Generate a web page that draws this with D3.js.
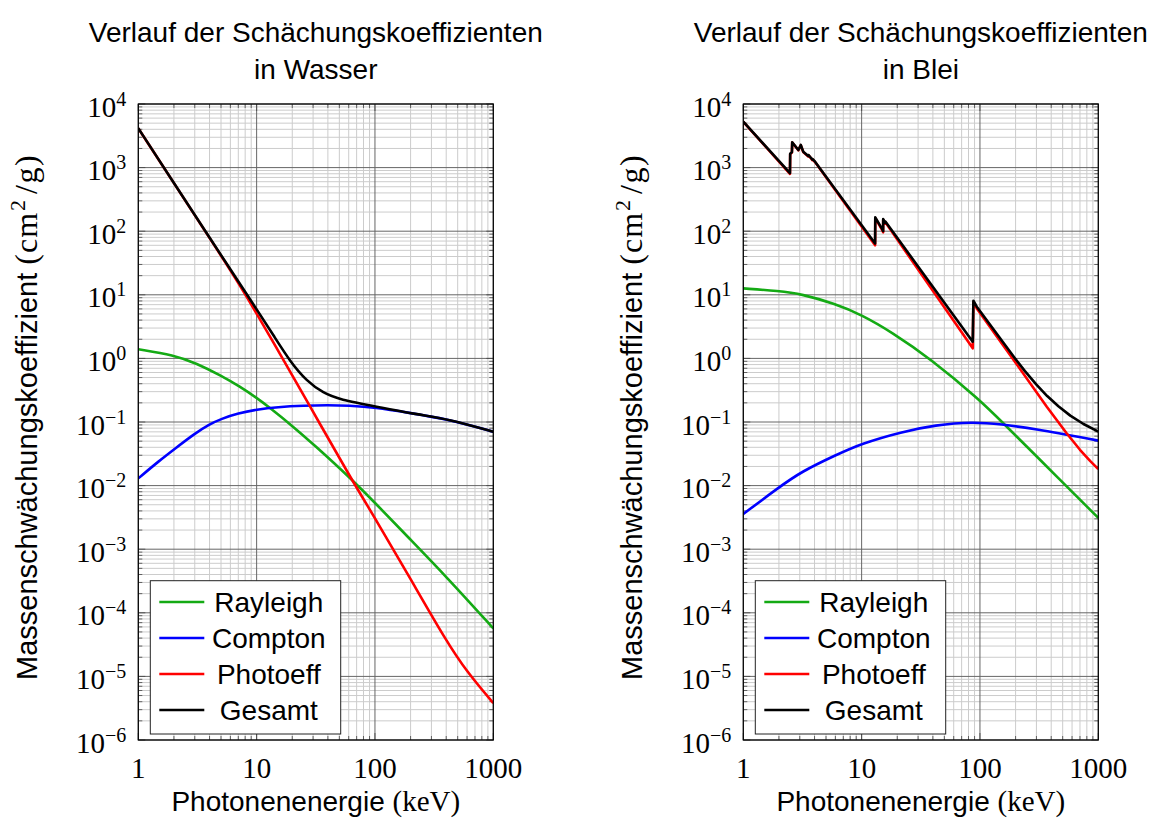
<!DOCTYPE html>
<html><head><meta charset="utf-8">
<script src="https://cdn.jsdelivr.net/npm/d3@7"></script>
<style>body{margin:0;background:#fff}</style>
</head><body><svg id="c" width="1161" height="819" xmlns="http://www.w3.org/2000/svg"></svg>
<script>
// ---------- data ----------
const xTickValues = [1, 10, 100, 1000];
const xTickLabels = ["1", "10", "100", "1000"];
const yTickExponents = [4, 3, 2, 1, 0, -1, -2, -3, -4, -5, -6];
const seriesNames = ["Rayleigh", "Compton", "Photoeff", "Gesamt"];
const seriesColors = ["#14aa14", "#0000ff", "#ff0000", "#000000"];
const titles = [["Verlauf der Schächungskoeffizienten", "in Wasser"],
                ["Verlauf der Schächungskoeffizienten", "in Blei"]];

// Water: [energy keV, cm^2/g]
const waterRayleigh = [[1,1.39],[2,1.13],[3.1,0.836],[5,0.537],[7.24,0.359],[10,0.24],[13,0.166],[20,0.087],[30,0.0452],[63.5,0.0126],[100,0.00537],[200,0.00141],[400,0.000372],[1000,0.000057]];
const waterCompton = [[1,0.013],[1.5,0.0245],[2,0.037],[3,0.066],[4,0.092],[5,0.112],[7,0.137],[10,0.157],[15,0.172],[25,0.181],[40,0.184],[60,0.181],[100,0.17],[200,0.138],[400,0.112],[1000,0.0705]];
const waterPhoto = [[1,4140],[2,570],[4,78.5],[7.24,14.3],[13.8,1.81],[27.7,0.188],[63.7,0.01225],[100,0.0031],[200,0.00034],[400,0.000036],[600,0.0000117],[1000,0.0000038]];
const waterTotal = [[1,4150],[2,572],[4,79],[7.24,14.8],[10,5.9],[13.8,2.35],[19.2,0.89],[26.5,0.44],[36.6,0.285],[50.7,0.224],[100,0.176],[240,0.129],[400,0.113],[1000,0.0705]];

// Lead
const leadRayleigh = [[1,12.6],[2,11.5],[3.1,10.3],[6,7.2],[10,4.85],[17.9,2.6],[37.9,1.0],[100,0.222],[158,0.095],[300,0.029],[1000,0.0031]];
const leadCompton = [[1,0.00358],[2,0.0094],[3.1,0.0166],[6,0.030],[10,0.046],[21.8,0.070],[41.7,0.0897],[87,0.101],[152,0.092],[280,0.079],[1000,0.051]];
const leadPhoto = [[1,5250],[2.48,800],[2.49,1630],[2.575,1730],[2.59,2480],[2.92,1870],[3.06,2250],[3.21,1760],[3.54,1500],[3.56,1560],[3.84,1310],[3.86,1340],[4.04,1220],[13.0,60],[13.04,160],[14.8,107],[15.2,96],[15.21,150],[15.85,131],[15.87,138],[86.9,1.44],[88.0,7.6],[94,6.1],[198,0.88],[367,0.174],[542,0.066],[700,0.0366],[852,0.0245],[1000,0.0182]];
const leadTotal = [[1,5270],[2.48,820],[2.49,1650],[2.575,1750],[2.59,2500],[2.92,1890],[3.06,2270],[3.21,1780],[3.54,1520],[3.56,1580],[3.84,1330],[3.86,1360],[4.04,1240],[13.0,64],[13.04,165],[14.8,111],[15.2,100],[15.21,155],[15.85,135],[15.87,142],[86.9,1.83],[88.0,8.07],[94,6.5],[198,1.0],[240,0.63],[300,0.386],[370,0.256],[460,0.177],[580,0.126],[750,0.093],[1000,0.0705]];

const panels = [
  {x0: 138.3, series: [waterRayleigh, waterCompton, waterPhoto, waterTotal], edges: [false, false, false, false]},
  {x0: 743.3, series: [leadRayleigh, leadCompton, leadPhoto, leadTotal], edges: [false, false, true, true]}
];

// ---------- drawing ----------
const svg = d3.select("#c");
const W = 355, Y0 = 104, Y1 = 740;
const SANS = "'Liberation Sans', Arial, Helvetica, sans-serif";
const SERIF = "'Liberation Serif', 'Times New Roman', serif";

panels.forEach((p, pi) => {
  const x = d3.scaleLog().domain([1, 1000]).range([p.x0, p.x0 + W]);
  const y = d3.scaleLog().domain([1e-6, 1e4]).range([Y1, Y0]);
  const g = svg.append("g");

  const minorX = [], minorY = [];
  for (let k = 0; k < 3; k++) for (let m = 2; m <= 9; m++) minorX.push(m * Math.pow(10, k));
  for (let k = -6; k < 4; k++) for (let m = 2; m <= 9; m++) minorY.push(m * Math.pow(10, k));
  const majorY = yTickExponents.map(e => Math.pow(10, e));

  const gridG = g.append("g");
  gridG.selectAll(".mx").data(minorX).enter().append("line")
    .attr("x1", d => x(d)).attr("x2", d => x(d)).attr("y1", Y0).attr("y2", Y1)
    .attr("stroke", "#cccccc").attr("stroke-width", 1);
  gridG.selectAll(".my").data(minorY).enter().append("line")
    .attr("y1", d => y(d)).attr("y2", d => y(d)).attr("x1", p.x0).attr("x2", p.x0 + W)
    .attr("stroke", "#cccccc").attr("stroke-width", 1);
  gridG.selectAll(".Mx").data(xTickValues).enter().append("line")
    .attr("x1", d => x(d)).attr("x2", d => x(d)).attr("y1", Y0).attr("y2", Y1)
    .attr("stroke", "#666666").attr("stroke-width", 1);
  gridG.selectAll(".My").data(majorY).enter().append("line")
    .attr("y1", d => y(d)).attr("y2", d => y(d)).attr("x1", p.x0).attr("x2", p.x0 + W)
    .attr("stroke", "#666666").attr("stroke-width", 1);

  const tickG = g.append("g").attr("stroke", "#444").attr("stroke-width", 0.8);
  const addTicks = (vals, len, axisIsX) => {
    vals.forEach(v => {
      if (axisIsX) {
        const xx = x(v);
        tickG.append("line").attr("x1", xx).attr("x2", xx).attr("y1", Y1).attr("y2", Y1 - len);
        tickG.append("line").attr("x1", xx).attr("x2", xx).attr("y1", Y0).attr("y2", Y0 + len);
      } else {
        const yy = y(v);
        tickG.append("line").attr("y1", yy).attr("y2", yy).attr("x1", p.x0).attr("x2", p.x0 + len);
        tickG.append("line").attr("y1", yy).attr("y2", yy).attr("x1", p.x0 + W).attr("x2", p.x0 + W - len);
      }
    });
  };
  addTicks(minorX, 4, true); addTicks(xTickValues, 7, true);
  addTicks(minorY, 4, false); addTicks(majorY, 7, false);

  const clipId = "clip" + pi;
  svg.append("clipPath").attr("id", clipId).append("rect")
    .attr("x", p.x0).attr("y", Y0).attr("width", W).attr("height", Y1 - Y0);
  const smoothLine = d3.line().x(d => x(d[0])).y(d => y(d[1])).curve(d3.curveBasis);
  const edgeLine = d3.line().x(d => x(d[0])).y(d => y(d[1])).curve(d3.curveLinear);
  const curveG = g.append("g").attr("clip-path", `url(#${clipId})`);
  p.series.forEach((s, si) => {
    curveG.append("path").attr("d", (p.edges[si] ? edgeLine : smoothLine)(s)).attr("fill", "none")
      .attr("stroke", seriesColors[si]).attr("stroke-width", 2.6)
      .attr("stroke-linejoin", "round");
  });

  g.append("rect").attr("x", p.x0).attr("y", Y0).attr("width", W).attr("height", Y1 - Y0)
    .attr("fill", "none").attr("stroke", "#000").attr("stroke-width", 1.2);

  xTickValues.forEach((v, i) => {
    g.append("text").attr("x", x(v)).attr("y", 778).attr("text-anchor", "middle")
      .attr("font-family", SERIF).attr("font-size", 29).text(xTickLabels[i]);
  });
  yTickExponents.forEach(e => {
    const t = g.append("text").attr("x", p.x0 - 12).attr("y", y(Math.pow(10, e)) + 12.5)
      .attr("text-anchor", "end").attr("font-family", SERIF).attr("font-size", 29);
    t.append("tspan").text("10");
    t.append("tspan").attr("dy", -11).attr("font-size", 20).text(e < 0 ? "\u2212" + (-e) : String(e));
  });

  const xl = g.append("text").attr("x", p.x0 + W / 2).attr("y", 811).attr("text-anchor", "middle")
    .attr("font-family", SANS).attr("font-size", 28);
  xl.append("tspan").text("Photonenenergie ");
  xl.append("tspan").attr("font-family", SERIF).attr("font-size", 29).text("(keV)");

  const yl = g.append("text").attr("transform", `translate(${p.x0 - 101},680) rotate(-90)`)
    .attr("text-anchor", "start").attr("font-family", SANS).attr("font-size", 29);
  yl.append("tspan").text("Massenschwächungskoeffizient ");
  yl.append("tspan").attr("font-family", SERIF).attr("font-size", 32).attr("letter-spacing", 1).text("(cm");
  yl.append("tspan").attr("font-family", SERIF).attr("font-size", 22).attr("dy", -12).attr("dx", 1).text("2");
  yl.append("tspan").attr("font-family", SERIF).attr("font-size", 32).attr("letter-spacing", 1.5).attr("dy", 12).attr("dx", 6).text("/g)");

  titles[pi].forEach((tl, li) => {
    g.append("text").attr("x", p.x0 + W / 2).attr("y", li === 0 ? 41.5 : 78.5)
      .attr("text-anchor", "middle").attr("font-family", SANS).attr("font-size", 28).text(tl);
  });

  const lx = p.x0 + 12, ly = 580.7, lw = 190.4, lh = 153.3;
  const lg = g.append("g");
  lg.append("rect").attr("x", lx).attr("y", ly).attr("width", lw).attr("height", lh)
    .attr("fill", "#fff").attr("stroke", "#222").attr("stroke-width", 1);
  seriesNames.forEach((n, i) => {
    const cy = 602 + i * 36;
    lg.append("line").attr("x1", p.x0 + 21).attr("x2", p.x0 + 66).attr("y1", cy).attr("y2", cy)
      .attr("stroke", seriesColors[i]).attr("stroke-width", 2.6);
    lg.append("text").attr("x", p.x0 + 130.5).attr("y", cy + 10).attr("text-anchor", "middle")
      .attr("font-family", SANS).attr("font-size", 28).text(n);
  });
});
</script>
</body></html>
